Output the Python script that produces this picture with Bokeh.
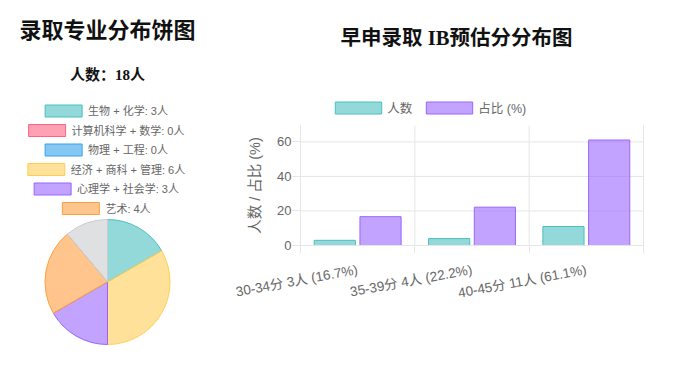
import math
from bokeh.plotting import figure
from bokeh.layouts import row
from bokeh.models import Range1d, FixedTicker, Legend, LegendItem, ColumnDataSource
from bokeh.transform import dodge
from bokeh.core.properties import value
from bokeh.embed import file_html
from bokeh.resources import INLINE

# ---------------- data ----------------
pie_title = "录取专业分布饼图"
major_labels = ["生物 + 化学", "计算机科学 + 数学", "物理 + 工程", "经济 + 商科 + 管理", "心理学 + 社会学", "艺术"]
major_counts = [3, 0, 0, 6, 3, 4]
major_colors = ["#4bc0c0", "#ff6384", "#36a2eb", "#ffcd56", "#9966ff", "#ff9f40"]
other_label = "其他"
other_count = 2
other_color = "#c9cbcf"

bar_title = "早申录取 IB预估分分布图"
score_bins = ["30-34分", "35-39分", "40-45分"]
bin_counts = [3, 4, 11]
bin_pcts = [16.7, 22.2, 61.1]
y_ticks = [0, 20, 40, 60]
y_max = 69.5
series_names = ["人数", "占比 (%)"]
series_colors = ["#4bc0c0", "#9966ff"]
y_axis_label = "人数 / 占比 (%)"

SANS = "Liberation Sans, Noto Sans CJK SC"
SERIF = "Liberation Serif, Noto Sans CJK SC"
GREY_TEXT = "#666666"
GRID = "#e6e6e6"

H = 368
W1 = 230
W2 = 448


def text_width(s, fs):
    w = 0.0
    metrics = {" ": 0.278, ":": 0.278, "+": 0.584, "(": 0.333, ")": 0.333,
               "%": 0.889, ".": 0.278, "-": 0.333}
    for ch in s:
        if ord(ch) > 0x2E80:
            w += fs
        elif ch.isdigit():
            w += 0.556 * fs
        else:
            w += metrics.get(ch, 0.556) * fs
    return w


# ---------------- left: pie ----------------
p1 = figure(width=W1, height=H, x_range=Range1d(0, W1), y_range=Range1d(0, H),
            output_backend="svg", toolbar_location=None, min_border=0,
            x_axis_location=None, y_axis_location=None, outline_line_color=None)
p1.xgrid.visible = False
p1.ygrid.visible = False

pie_vals = major_counts + [other_count]
pie_cols = major_colors + [other_color]
total = sum(pie_vals)
starts, ends, cols = [], [], []
cum = 0
for v, c in zip(pie_vals, pie_cols):
    if v > 0:
        starts.append(math.pi / 2 - 2 * math.pi * cum / total)
        ends.append(math.pi / 2 - 2 * math.pi * (cum + v) / total)
        cols.append(c)
    cum += v

pie_src = ColumnDataSource(dict(s=starts, e=ends, c=cols))
p1.wedge(x=107, y=H - 281.5, radius=62.5, start_angle="s", end_angle="e", direction="clock",
         fill_color="c", fill_alpha=0.6, line_color="c", line_width=1, source=pie_src)

p1.text(x=[107], y=[H - 30], text=[pie_title], text_font=value(SERIF), text_font_size="22px",
        text_font_style="bold", text_align="center", text_baseline="middle", text_color="#111111")
p1.text(x=[107], y=[H - 74], text=[f"人数：{total}人"], text_font=value(SERIF), text_font_size="15px",
        text_font_style="bold", text_align="center", text_baseline="middle", text_color="#111111")

lx, ly, lt, lc, rx, ry = [], [], [], [], [], []
box_w, box_h, gap, fs = 37, 12, 6, 11
for i, (lab, n, col) in enumerate(zip(major_labels, major_counts, major_colors)):
    t = f"{lab}: {n}人"
    tw = text_width(t, fs)
    tot_w = box_w + gap + tw
    left = 106 - tot_w / 2
    yc = H - (110.5 + 19.5 * i)
    rx.append(left + box_w / 2)
    ry.append(yc)
    lc.append(col)
    lx.append(left + box_w + gap)
    ly.append(yc)
    lt.append(t)
p1.rect(x=rx, y=ry, width=box_w, height=box_h, fill_color=lc, fill_alpha=0.6, line_color=lc, line_width=1)
p1.text(x=lx, y=ly, text=lt, text_font=value(SANS), text_font_size=f"{fs}px", text_color=GREY_TEXT,
        text_align="left", text_baseline="middle")

# ---------------- right: bars ----------------
n_bins = len(score_bins)
xs = [i + 0.5 for i in range(n_bins)]
tick_labels = [f"{b} {c}人 ({p}%)" for b, c, p in zip(score_bins, bin_counts, bin_pcts)]

# frame spans the whole p2 canvas; plot area sits between these local pixel positions
AX_LEFT_PX, AX_RIGHT_PX = 70, 413    # local x of x=0 and x=n_bins
AX_BOTTOM_PX, AX_TOP_PX = 245, 125   # y of value 0 and value y_max
ky = y_max / (AX_BOTTOM_PX - AX_TOP_PX)
kx = n_bins / (AX_RIGHT_PX - AX_LEFT_PX)
y_lo = -ky * (H - AX_BOTTOM_PX)
y_hi = y_max + ky * AX_TOP_PX
x_lo = -kx * AX_LEFT_PX
x_hi = n_bins + kx * (W2 - AX_RIGHT_PX)


def px2x(gx):  # global pixel x -> data x
    return x_lo + (gx - W1) * kx


def px2y(gy):  # global pixel y -> data y
    return y_hi - gy * ky


p2 = figure(width=W2, height=H, x_range=Range1d(x_lo, x_hi), y_range=Range1d(y_lo, y_hi),
            output_backend="svg", toolbar_location=None, min_border=0,
            outline_line_color=None)

# grid lines: vertical at category boundaries, horizontal at value ticks
bounds_x = list(range(n_bins + 1))
p2.segment(x0=bounds_x, y0=[0] * len(bounds_x), x1=bounds_x, y1=[y_max] * len(bounds_x),
           line_color=GRID, line_width=1)
p2.segment(x0=[0] * len(y_ticks), y0=y_ticks, x1=[n_bins] * len(y_ticks), y1=y_ticks,
           line_color=GRID, line_width=1)

src = ColumnDataSource(dict(x=xs, n=bin_counts, p=bin_pcts))
r1 = p2.vbar(x=dodge("x", -0.2, range=p2.x_range), top="n", width=0.36, source=src,
             fill_color=series_colors[0], fill_alpha=0.6, line_color=series_colors[0], line_width=1)
r2 = p2.vbar(x=dodge("x", 0.2, range=p2.x_range), top="p", width=0.36, source=src,
             fill_color=series_colors[1], fill_alpha=0.6, line_color=series_colors[1], line_width=1)

xa = p2.xaxis[0]
xa.fixed_location = 0
xa.bounds = (0, n_bins)
xa.ticker = FixedTicker(ticks=xs, minor_ticks=bounds_x)
xa.major_label_overrides = {x: t for x, t in zip(xs, tick_labels)}
xa.major_tick_out = 0
xa.major_tick_in = 0
xa.minor_tick_out = 8
xa.minor_tick_in = 0
xa.minor_tick_line_color = GRID
xa.axis_line_color = GRID
xa.major_label_orientation = math.radians(10.5)
xa.major_label_text_font = SANS
xa.major_label_text_font_size = "13.5px"
xa.major_label_text_color = GREY_TEXT
xa.major_label_standoff = 16

ya = p2.yaxis[0]
ya.fixed_location = 0
ya.bounds = (0, y_max)
ya.ticker = FixedTicker(ticks=y_ticks, minor_ticks=[])
ya.major_tick_out = 8
ya.major_tick_in = 0
ya.major_tick_line_color = GRID
ya.axis_line_color = GRID
ya.major_label_standoff = 1
ya.major_label_text_font = SANS
ya.major_label_text_font_size = "13px"
ya.major_label_text_color = GREY_TEXT
ya.axis_label = y_axis_label
ya.axis_label_text_font = SANS
ya.axis_label_text_font_size = "14.5px"
ya.axis_label_text_font_style = "normal"
ya.axis_label_text_color = GREY_TEXT
ya.axis_label_standoff = 11

p2.xgrid.visible = False
p2.ygrid.visible = False

# legend (vbar legend glyph is inset 10% on each side)
gw, gh = 46 / 0.8, 12 / 0.8
legend = Legend(items=[LegendItem(label=series_names[0], renderers=[r1]),
                       LegendItem(label=series_names[1], renderers=[r2])],
                orientation="horizontal", location=(335 - W1 - 0.1 * gw, H - 117),
                glyph_width=round(gw), glyph_height=round(gh), label_standoff=0, spacing=8,
                padding=0, margin=0, border_line_color=None, background_fill_alpha=0,
                label_text_font=SANS, label_text_font_size="12.5px", label_text_color=GREY_TEXT,
                label_height=16)
p2.add_layout(legend)

p2.text(x=[px2x(456)], y=[px2y(37)], text=[bar_title], text_font=value(SERIF), text_font_size="20.5px",
        text_font_style="bold", text_align="center", text_baseline="middle", text_color="#111111")

layout = row(p1, p2)
open("out.html", "w").write(file_html(layout, INLINE))
